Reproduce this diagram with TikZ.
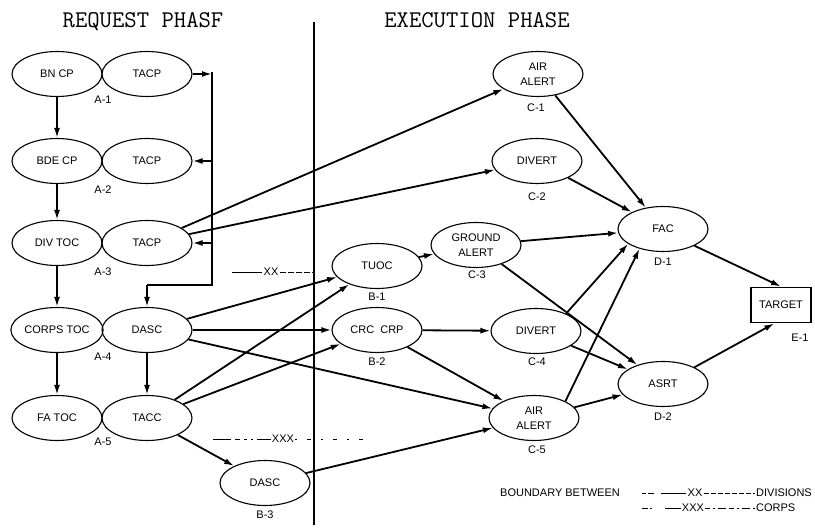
\documentclass[tikz,border=0pt]{standalone}
\usepackage{fontspec}
\usetikzlibrary{shapes.geometric,arrows.meta}
\newfontfamily\labfont{Liberation Sans}
\newcommand\titlefont{\ttfamily\addfontfeature{FakeBold=1.2}}
\begin{document}
\begin{tikzpicture}[x=1pt,y=-1pt,
  ell/.style={ellipse,draw,line width=1.1pt,minimum width=90pt,minimum height=45pt,inner sep=0pt,font=\labfont\fontsize{11}{15}\selectfont,align=center},
  boxnode/.style={rectangle,draw,line width=1.8pt,minimum width=60pt,minimum height=35pt,inner sep=0pt,font=\labfont\fontsize{11}{13}\selectfont},
  sub/.style={font=\labfont\fontsize{11}{13}\selectfont,inner sep=1pt},
  conn/.style={line width=1.8pt},
  arr/.style={line width=1.8pt,-{Latex[length=10pt,width=6pt]}},
  ttl/.style={font=\titlefont\fontsize{24}{26}\selectfont,inner sep=0pt},
  bnd/.style={line width=0.8pt}
]
\fill[white] (0,0) rectangle (815,529);
\useasboundingbox (0,0) rectangle (815,529);

% titles
\node[ttl] (t1) at (143,22) {REQUEST PHASF};
\node[ttl] (t2) at (477,20) {EXECUTION PHASE};

% phase divider
\coordinate (ptop) at (314,22);
\coordinate (pbot) at (314,525);
\draw[line width=2pt] (ptop) -- (pbot);

% nodes
\node[ell] (bncp) at (57,74) {BN CP};
\node[ell] (tacp1) at (147,74) {TACP};
\node[ell] (bdecp) at (57,161) {BDE CP};
\node[ell] (tacp2) at (147,161) {TACP};
\node[ell] (divtoc) at (57,243) {DIV TOC};
\node[ell] (tacp3) at (147,243) {TACP};
\node[ell] (corpstoc) at (57,330) {CORPS TOC};
\node[ell] (dasc4) at (147,330) {DASC};
\node[ell] (fatoc) at (57,418) {FA TOC};
\node[ell] (tacc) at (147,418) {TACC};
\node[ell] (dascb) at (265,483) {DASC};
\node[ell] (tuoc) at (377,266) {TUOC};
\node[ell] (crc) at (377,330) {CRC\ \ CRP};
\node[ell] (ga) at (476,245) {GROUND\\ALERT};
\node[ell] (aa1) at (538,74) {AIR\\ALERT};
\node[ell] (div2) at (537,161) {DIVERT};
\node[ell] (div4) at (536,331) {DIVERT};
\node[ell] (aa5) at (534,418) {AIR\\ALERT};
\node[ell] (fac) at (663,229) {FAC};
\node[ell] (asrt) at (663,384) {ASRT};
\node[boxnode] (target) at (781,305) {TARGET};

% sub labels
\node[sub] (la1) at (103,100) {A-1};
\node[sub] (la2) at (103,190) {A-2};
\node[sub] (la3) at (103,272) {A-3};
\node[sub] (la4) at (103,357) {A-4};
\node[sub] (la5) at (103,442) {A-5};
\node[sub] (lb1) at (377,297) {B-1};
\node[sub] (lb2) at (377,362) {B-2};
\node[sub] (lb3) at (265,515) {B-3};
\node[sub] (lc1) at (536,108) {C-1};
\node[sub] (lc2) at (537,197) {C-2};
\node[sub] (lc3) at (477,275) {C-3};
\node[sub] (lc4) at (537,362) {C-4};
\node[sub] (lc5) at (537,450) {C-5};
\node[sub] (ld1) at (663,262) {D-1};
\node[sub] (ld2) at (663,417) {D-2};
\node[sub] (le1) at (800,338) {E-1};

% left column chain
\draw[arr] (bncp) -- (bdecp);
\draw[arr] (bdecp) -- (divtoc);
\draw[arr] (divtoc) -- (corpstoc);
\draw[arr] (corpstoc) -- (fatoc);
\draw[arr] (dasc4) -- (tacc);

% TACP bus
\coordinate (bt) at (212,72);
\coordinate (b1) at (212,74);
\coordinate (b2) at (212,161);
\coordinate (b3) at (212,243);
\coordinate (bc) at (212,285);
\coordinate (bl) at (147,285);
\draw[conn] (bt) -- (bc) -- (bl);
\draw[arr] (bl) -- (dasc4);
\draw[arr] (tacp1) -- (b1);
\draw[arr] (b2) -- (tacp2);
\draw[arr] (b3) -- (tacp3);

% request to execution
\draw[arr] (tacp3) -- (aa1);
\draw[arr] (tacp3) -- (div2);
\draw[arr] (dasc4) -- (tuoc);
\draw[arr] (dasc4) -- (crc);
\draw[arr] (dasc4) -- (aa5);
\draw[arr] (tacc) -- (tuoc);
\draw[arr] (tacc) -- (crc);
\draw[arr] (tacc) -- (dascb);
\draw[arr] (dascb) -- (aa5);

% execution
\draw[arr] (tuoc) -- (ga);
\draw[arr] (crc) -- (div4);
\draw[arr] (crc) -- (aa5);
\draw[arr] (ga) -- (fac);
\draw[arr] (ga) -- (asrt);
\draw[arr] (aa1) -- (fac);
\draw[arr] (div2) -- (fac);
\draw[arr] (div4.30) -- (fac.203);
\draw[arr] (aa5.28) -- (fac.220);
\draw[arr] (div4) -- (asrt);
\draw[arr] (aa5) -- (asrt);
\draw[arr] (fac.-28) -- (target.north);
\draw[arr] (asrt.28) -- (target.250);

% boundaries
\coordinate (xxa) at (232,272);
\node[sub] (xx) at (271,272) {XX};
\coordinate (xxd) at (312,272);
\draw[bnd] (xxa) -- (xx.west);
\draw[bnd,dash pattern=on 6pt off 2pt] (xx.east) -- (xxd);

\coordinate (xxxa) at (213,439);
\node[sub] (xxx) at (283,439) {XXX};
\coordinate (xxxd) at (363,439);
\draw[bnd,dash pattern=on 18pt off 4pt on 5pt off 4pt on 3pt off 4pt on 2pt off 4pt] (xxxa) -- (xxx.west);
\draw[bnd,dash pattern=on 2pt off 10pt on 4pt off 10pt] (xxx.east) -- (xxxd);

% legend
\node[sub,anchor=east] (bb) at (621,493) {BOUNDARY BETWEEN};
\node[sub] (lxx) at (695,493) {XX};
\node[sub,anchor=west] (ldiv) at (755,493) {DIVISIONS};
\coordinate (l1a) at (642,493);
\coordinate (l1b) at (654,493);
\coordinate (l1c) at (661,493);
\draw[bnd,dash pattern=on 4pt off 2pt on 6pt off 2pt] (l1a) -- (l1b);
\draw[bnd] (l1c) -- (lxx.west);
\draw[bnd,dash pattern=on 5pt off 2pt] (lxx.east) -- (ldiv.west);

\node[sub] (lxxx) at (693,508) {XXX};
\node[sub,anchor=west] (lcorps) at (755,508) {CORPS};
\coordinate (l2a) at (642,508);
\coordinate (l2b) at (652,508);
\coordinate (l2c) at (665,508);
\draw[bnd,dash pattern=on 6pt off 2pt on 2pt off 2pt] (l2a) -- (l2b);
\draw[bnd] (l2c) -- (lxxx.west);
\draw[bnd,dash pattern=on 5pt off 3pt on 2pt off 3pt on 8pt off 3pt] (lxxx.east) -- (lcorps.west);
\end{tikzpicture}
\end{document}
